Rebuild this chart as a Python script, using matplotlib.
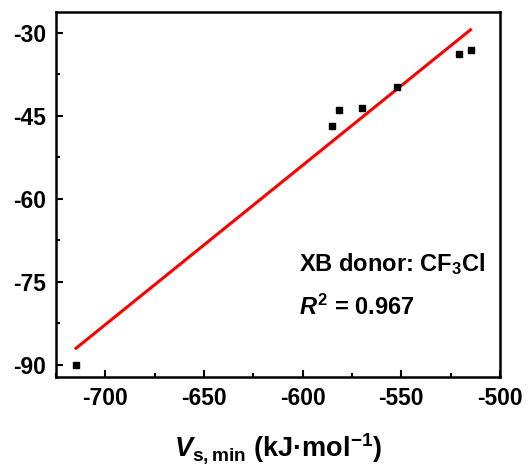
import numpy as np
import matplotlib
matplotlib.use("Agg")
import matplotlib.pyplot as plt
from matplotlib.ticker import MultipleLocator

plt.rcParams["font.family"] = "Liberation Sans"
plt.rcParams["font.weight"] = "bold"
plt.rcParams["axes.labelweight"] = "bold"
plt.rcParams["axes.unicode_minus"] = False
plt.rcParams["mathtext.fontset"] = "custom"
plt.rcParams["mathtext.rm"] = "Liberation Sans:bold"
plt.rcParams["mathtext.bf"] = "Liberation Sans:bold"
plt.rcParams["mathtext.it"] = "Liberation Sans:italic:bold"

# data
vs_min = [-714.9, -585.3, -581.6, -569.7, -552.4, -520.5, -514.9]
energy = [-90.0, -46.8, -44.0, -43.6, -39.8, -33.9, -33.1]
r2_text = "0.967"

x = np.array(vs_min)
y = np.array(energy)
slope, icpt = np.polyfit(x, y, 1)
xf = np.array([x.min(), x.max()])

fig = plt.figure(figsize=(5.29, 4.76), dpi=100)
ax = fig.add_axes([0.106, 0.208, 0.839, 0.767])

ax.plot(x, y, "s", color="black", markersize=4.5, zorder=3)
ax.plot(xf, slope * xf + icpt, color="red", lw=2.2)

ax.set_xlim(-725, -500)
ax.set_ylim(-92.2, -26.2)
ax.xaxis.set_major_locator(MultipleLocator(50))
ax.xaxis.set_minor_locator(MultipleLocator(25))
ax.yaxis.set_major_locator(MultipleLocator(15))
ax.yaxis.set_minor_locator(MultipleLocator(7.5))
ax.tick_params(which="both", direction="in", width=1.5, labelsize=16.5, pad=7)
ax.tick_params(which="major", length=5)
ax.tick_params(which="minor", length=3)
for s in ax.spines.values():
    s.set_linewidth(1.8)

ax.text(-602, -73.1, "XB donor: CF$_3$Cl", fontsize=17)
ax.text(-602, -80.9, r"$\mathit{R}^2$ = " + r2_text, fontsize=17)

ax.set_xlabel(r"$\mathit{V}_{\mathrm{s,min}}$ (kJ·mol$^{\mathrm{-1}}$)", fontsize=19.5)
ax.xaxis.set_label_coords(0.5, -0.148)
ax.xaxis.label.set_va("top")

fig.savefig("out.png", dpi=100)
